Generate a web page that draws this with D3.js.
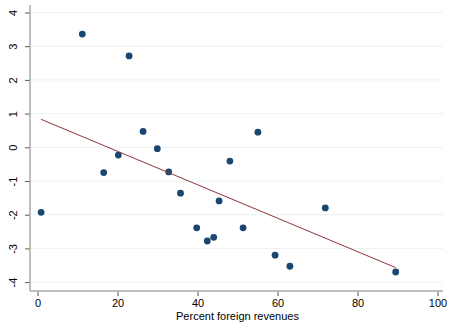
<!DOCTYPE html>
<html>
<head>
<meta charset="utf-8">
<script src="https://cdn.jsdelivr.net/npm/d3@7"></script>
<style>
  html, body { margin: 0; padding: 0; background: #fff; }
  svg { display: block; font-family: "Liberation Sans", Arial, sans-serif; }
</style>
</head>
<body>
<svg id="chart" width="454" height="330"></svg>
<script>
// Observations: share of revenues earned abroad vs. outcome score
const foreignPct = [0.9, 11.2, 22.9, 16.55, 20.2, 26.4, 29.95, 32.8, 35.75, 39.8,
                    42.45, 44.05, 45.4, 48.1, 55.1, 51.4, 59.4, 63.1, 71.95, 89.55];
const outcome    = [-1.93, 3.36, 2.71, -0.75, -0.23, 0.47, -0.04, -0.73, -1.36, -2.39,
                    -2.78, -2.67, -1.59, -0.41, 0.45, -2.39, -3.2, -3.53, -1.80, -3.70];

// Linear fit endpoints
const fitX = [0.9, 89.55];
const fitY = [0.83, -3.57];

const xTicks = [0, 20, 40, 60, 80, 100];
const yTicks = [-4, -3, -2, -1, 0, 1, 2, 3, 4];
const xTitle = "Percent foreign revenues";

const svg = d3.select("#chart");
const plotLeft = 30, plotRight = 443, plotTop = 5, plotBottom = 291;

const x = d3.scaleLinear().domain([0, 100]).range([37.5, 437.5]);
const y = d3.scaleLinear().domain([0, 4]).range([147.3, 12.5]);
const plainNum = d => String(d);

// horizontal gridlines
svg.append("g").selectAll("line").data(yTicks).join("line")
  .attr("x1", plotLeft).attr("x2", plotRight)
  .attr("y1", d => y(d)).attr("y2", d => y(d))
  .attr("stroke", "#eaf2f3").attr("stroke-width", 1);

// axes
const xAxis = d3.axisBottom(x).tickValues(xTicks).tickFormat(plainNum)
  .tickSize(5).tickPadding(3).tickSizeOuter(0);
const gx = svg.append("g").attr("transform", `translate(0,${plotBottom})`).call(xAxis);
gx.select(".domain").remove();
gx.selectAll(".tick line").attr("stroke", "#555");
gx.selectAll(".tick text").attr("font-size", 11).attr("fill", "#000")
  .attr("font-family", "Liberation Sans, Arial, sans-serif");

svg.append("line").attr("x1", plotLeft).attr("x2", plotRight).attr("y1", plotBottom).attr("y2", plotBottom)
  .attr("stroke", "#a8a8a8").attr("stroke-width", 1.5);

const yAxis = d3.axisLeft(y).tickValues(yTicks).tickFormat(plainNum)
  .tickSize(5).tickPadding(0).tickSizeOuter(0);
const gy = svg.append("g").attr("transform", `translate(${plotLeft},0)`).call(yAxis);
gy.select(".domain").remove();
gy.selectAll(".tick line").attr("stroke", "#555");
gy.selectAll(".tick text")
  .attr("font-size", 11).attr("fill", "#000")
  .attr("font-family", "Liberation Sans, Arial, sans-serif")
  .attr("text-anchor", "middle")
  .attr("x", null).attr("y", 0).attr("dy", null)
  .attr("transform", "translate(-13,0) rotate(-90)");

svg.append("line").attr("x1", plotLeft).attr("x2", plotLeft).attr("y1", plotTop).attr("y2", plotBottom)
  .attr("stroke", "#a8a8a8").attr("stroke-width", 1.5);

// scatter points
svg.append("g").selectAll("circle").data(foreignPct).join("circle")
  .attr("cx", d => x(d))
  .attr("cy", (d, i) => y(outcome[i]))
  .attr("r", 3.4)
  .attr("fill", "#1a476f");

// fitted line
const line = d3.line().x(d => x(d[0])).y(d => y(d[1]));
svg.append("path").datum(fitX.map((v, i) => [v, fitY[i]]))
  .attr("d", line).attr("fill", "none")
  .attr("stroke", "#90353b").attr("stroke-width", 1);

// axis title
svg.append("text").attr("x", 237.5).attr("y", 319.5)
  .attr("text-anchor", "middle").attr("font-size", 11).attr("fill", "#000")
  .text(xTitle);
</script>
</body>
</html>
